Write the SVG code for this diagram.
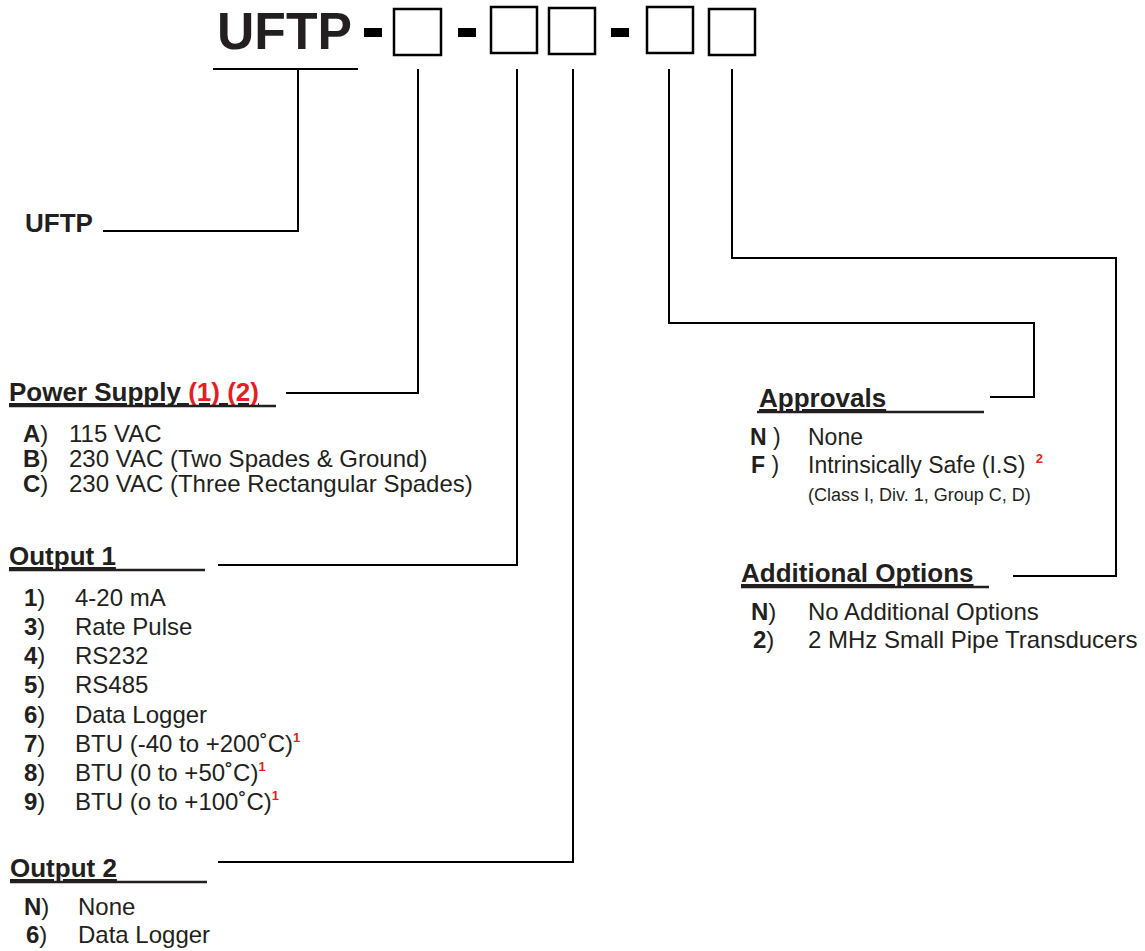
<svg xmlns="http://www.w3.org/2000/svg" width="1145" height="951" viewBox="0 0 1145 951">
<style>
text{font-family:"Liberation Sans",Arial,sans-serif;fill:#231f20}
.h{font-weight:bold;font-size:26px;text-decoration:underline}
.i{font-size:24px}
.a{font-size:23px}
.b{font-weight:bold}
.r{fill:#e31e24}
.sup{font-size:13px;font-weight:bold;fill:#e31e24}
.sm{font-size:18px}
.ln{fill:none;stroke:#000;stroke-width:2}
.ul{stroke:#231f20;stroke-width:2.5}
.box{fill:#fff;stroke:#000;stroke-width:2.5}
</style>
<rect width="1145" height="951" fill="#fff"/>
<g id="code">
<text x="217" y="49" font-size="52" font-weight="bold" textLength="135" lengthAdjust="spacingAndGlyphs">UFTP</text>
<rect x="364" y="28" width="18" height="9" fill="#000"/>
<rect class="box" x="394" y="9" width="47" height="46"/>
<rect x="458" y="28" width="18" height="9" fill="#000"/>
<rect class="box" x="491" y="7" width="46" height="46"/>
<rect class="box" x="549" y="8" width="46" height="46"/>
<rect x="611" y="28" width="18" height="9" fill="#000"/>
<rect class="box" x="647" y="7" width="46" height="46"/>
<rect class="box" x="709" y="9" width="46" height="46"/>
</g>
<g id="connectors" class="ln">
<path class="ln" d="M213 69H358M298 69V231H103"/>
<path class="ln" d="M418 69V393H286"/>
<path class="ln" d="M517 69V565H218"/>
<path class="ln" d="M573 69V862H218"/>
<path class="ln" d="M669 69V323H1034V397H990"/>
<path class="ln" d="M732 69V258H1116V576H1013"/>
</g>
<g id="uftp">
<text x="25" y="232" font-size="26" class="b">UFTP</text>
</g>
<g id="power-supply">
<text x="9" y="401" class="h">Power Supply <tspan class="r">(1) (2)</tspan> </text>
<line class="ul" x1="9" y1="406" x2="276" y2="406"/>
<text x="23" y="442" class="i"><tspan class="b">A</tspan>)</text><text x="69" y="442" class="i">115 VAC</text>
<text x="23" y="467" class="i"><tspan class="b">B</tspan>)</text><text x="69" y="467" class="i">230 VAC (Two Spades &amp; Ground)</text>
<text x="23" y="492" class="i"><tspan class="b">C</tspan>)</text><text x="69" y="492" class="i">230 VAC (Three Rectangular Spades)</text>
</g>
<g id="output-1">
<text x="9" y="565" class="h">Output 1</text>
<line class="ul" x1="9" y1="570" x2="205" y2="570"/>
<text x="24" y="606" class="i"><tspan class="b">1</tspan>)</text><text x="75" y="606" class="i">4-20 mA</text>
<text x="24" y="635" class="i"><tspan class="b">3</tspan>)</text><text x="75" y="635" class="i">Rate Pulse</text>
<text x="24" y="664" class="i"><tspan class="b">4</tspan>)</text><text x="75" y="664" class="i">RS232</text>
<text x="24" y="693" class="i"><tspan class="b">5</tspan>)</text><text x="75" y="693" class="i">RS485</text>
<text x="24" y="723" class="i"><tspan class="b">6</tspan>)</text><text x="75" y="723" class="i">Data Logger</text>
<text x="24" y="752" class="i"><tspan class="b">7</tspan>)</text><text x="75" y="752" class="i">BTU (-40 to +200˚C)<tspan class="sup" dy="-10">1</tspan></text>
<text x="24" y="781" class="i"><tspan class="b">8</tspan>)</text><text x="75" y="781" class="i">BTU (0 to +50˚C)<tspan class="sup" dy="-10">1</tspan></text>
<text x="24" y="810" class="i"><tspan class="b">9</tspan>)</text><text x="75" y="810" class="i">BTU (o to +100˚C)<tspan class="sup" dy="-10">1</tspan></text>
</g>
<g id="output-2">
<text x="10" y="877" class="h">Output 2</text>
<line class="ul" x1="10" y1="882" x2="207" y2="882"/>
<text x="24" y="915" class="i"><tspan class="b">N</tspan>)</text><text x="78" y="915" class="i">None</text>
<text x="26" y="943" class="i"><tspan class="b">6</tspan>)</text><text x="78" y="943" class="i">Data Logger</text>
</g>
<g id="approvals">
<text x="759" y="407" class="h">Approvals</text>
<line class="ul" x1="757" y1="412" x2="984" y2="412"/>
<text x="750" y="445" class="a"><tspan class="b">N</tspan> )</text><text x="808" y="445" class="a">None</text>
<text x="751" y="473" class="a"><tspan class="b">F</tspan> )</text><text x="808" y="473" class="a">Intrinsically Safe (I.S) <tspan class="sup" dx="4" dy="-10">2</tspan></text>
<text x="808" y="501" class="sm">(Class I, Div. 1, Group C, D)</text>
</g>
<g id="additional-options">
<text x="741" y="582" class="h">Additional Options </text>
<line class="ul" x1="741" y1="587" x2="989" y2="587"/>
<text x="751" y="620" class="i"><tspan class="b">N</tspan>)</text><text x="808" y="620" class="i">No Additional Options</text>
<text x="753" y="648" class="i"><tspan class="b">2</tspan>)</text><text x="808" y="648" class="i">2 MHz Small Pipe Transducers</text>
</g>
</svg>
